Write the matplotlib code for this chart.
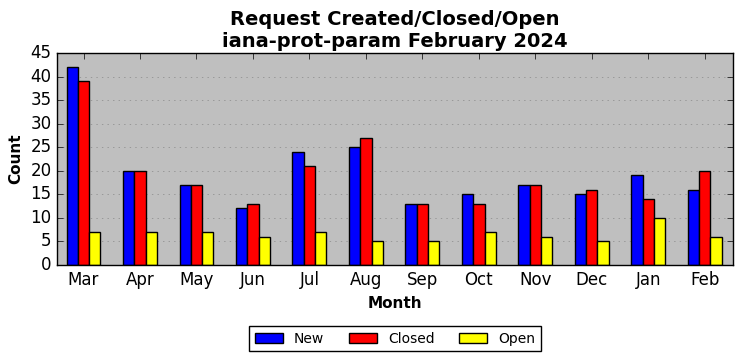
import numpy as np
import matplotlib.pyplot as plt

months = ['Mar', 'Apr', 'May', 'Jun', 'Jul', 'Aug', 'Sep', 'Oct', 'Nov', 'Dec', 'Jan', 'Feb']
new = [42, 20, 17, 12, 24, 25, 13, 15, 17, 15, 19, 16]
closed = [39, 20, 17, 13, 21, 27, 13, 13, 17, 16, 14, 20]
opened = [7, 7, 7, 6, 7, 5, 5, 7, 6, 5, 10, 6]

plt.style.use('classic')
fig = plt.figure(figsize=(7.42, 3.61), dpi=100)
ax = fig.add_axes([57/742, 1-265/361, 676/742, 212/361])

x = np.arange(len(months))
w = 0.2
ax.bar(x - w, new, w, color='blue', edgecolor='black', label='New')
ax.bar(x, closed, w, color='red', edgecolor='black', label='Closed')
ax.bar(x + w, opened, w, color='yellow', edgecolor='black', label='Open')

ax.set_facecolor('#bfbfbf')
ax.set_xlim(-0.47, 11.5)
ax.set_ylim(0, 45)
ax.set_yticks(range(0, 46, 5))
ax.set_xticks(x)
ax.set_xticklabels(months, fontsize=12)
ax.tick_params(axis='y', labelsize=12)
ax.yaxis.grid(True, linestyle=':', color='#888888')
ax.set_axisbelow(True)
ax.set_xlabel('Month', fontsize=11, fontweight='bold')
ax.set_ylabel('Count', fontsize=11, fontweight='bold')
ax.set_title('Request Created/Closed/Open\niana-prot-param February 2024', fontsize=14, fontweight='bold', y=0.995)
ax.legend(loc='upper center', bbox_to_anchor=(0.5, -0.255), ncol=3, fontsize=10, columnspacing=1.8)

fig.savefig('out.png', dpi=100)
